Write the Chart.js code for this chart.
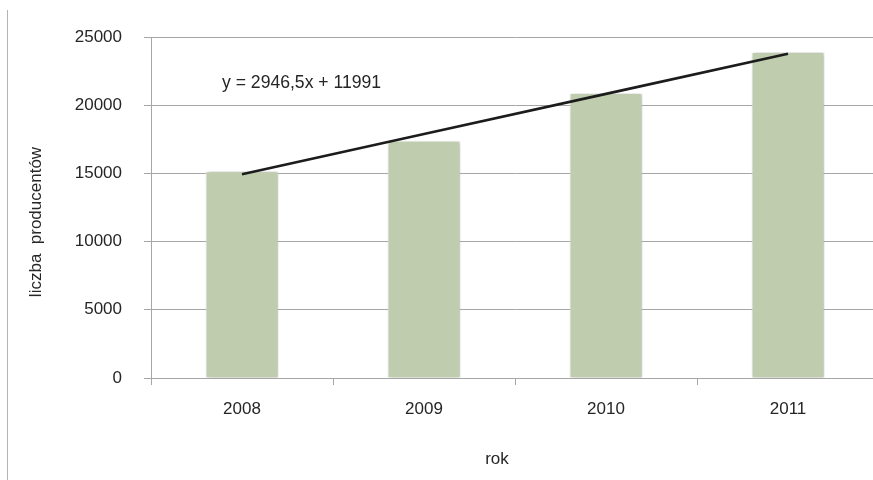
<!DOCTYPE html>
<html>
<head>
<meta charset="utf-8">
<script src="https://cdn.jsdelivr.net/npm/chart.js@4.4.1/dist/chart.umd.min.js"></script>
<style>
  html, body { margin: 0; padding: 0; background: #fff; overflow: hidden; }
  #wrap { width: 880px; height: 480px; position: relative; }
</style>
</head>
<body>
<div id="wrap"><canvas id="producersChart" width="880" height="480"></canvas></div>
<script>
// data
var years = ['2008', '2009', '2010', '2011'];
var producers = [15150, 17400, 20900, 23900];
var trendValues = [14938, 17884, 20831, 23777];   // linear trend shown on the chart
var trendLabel = 'y = 2946,5x + 11991';
var yTicks = [0, 5000, 10000, 15000, 20000, 25000];
var xTitle = 'rok';
var yTitle = 'liczba  producentów';

var FONT = '"Liberation Sans", Arial, sans-serif';
var TEXT = '#262626';
var GRID = '#a6a6a6';

// -----  extra drawing: left border line, axis titles, trend equation  ----- //
var decorations = {
  id: 'decorations',
  beforeDraw: function(chart) {
    var c = chart.ctx;
    c.save();
    c.strokeStyle = '#b4b4b4';
    c.lineWidth = 1;
    c.beginPath();
    c.moveTo(7.5, 10);
    c.lineTo(7.5, 480);
    c.stroke();
    c.restore();
  },
  afterDraw: function(chart) {
    var c = chart.ctx;
    c.save();
    c.fillStyle = TEXT;
    c.font = '17.6px ' + FONT;
    c.textBaseline = 'alphabetic';
    c.textAlign = 'left';
    c.fillText(trendLabel, 222, 88);

    c.font = '17px ' + FONT;
    c.textAlign = 'center';
    c.textBaseline = 'middle';
    c.fillText(xTitle, 497, 459);

    c.translate(36, 222);
    c.rotate(-Math.PI / 2);
    c.fillText(yTitle, 0, 0);
    c.restore();
  }
};

// soft shadow under the bars
var barShadow = {
  id: 'barShadow',
  beforeDatasetDraw: function(chart, args) {
    if (args.meta.type !== 'bar') return;
    var c = chart.ctx;
    c.save();
    c.shadowColor = 'rgba(0,0,0,0.35)';
    c.shadowBlur = 5;
    c.shadowOffsetX = 1;
    c.shadowOffsetY = 1;
  },
  afterDatasetDraw: function(chart, args) {
    if (args.meta.type !== 'bar') return;
    chart.ctx.restore();
  }
};

var ctx = document.getElementById('producersChart').getContext('2d');
var myChart = new Chart(ctx, {
  data: {
    labels: years,
    datasets: [
      {
        type: 'line',
        label: 'trend',
        data: trendValues,
        borderColor: '#1c1c1c',
        borderWidth: 2.6,
        pointRadius: 0,
        tension: 0,
        order: 0
      },
      {
        type: 'bar',
        label: 'liczba producentów',
        data: producers,
        backgroundColor: '#bfcdae',
        borderColor: '#ffffff',
        borderWidth: 1,
        barPercentage: 0.4,
        categoryPercentage: 1,
        order: 1
      }
    ]
  },
  options: {
    responsive: false,
    animation: false,
    devicePixelRatio: 1,
    layout: { padding: { top: 37, right: 1, left: 0, bottom: 0 } },
    plugins: {
      legend: { display: false },
      tooltip: { enabled: false }
    },
    scales: {
      x: {
        offset: true,
        grid: { display: true, drawOnChartArea: false, drawTicks: true, tickLength: 7, color: GRID, offset: true },
        border: { display: true, color: GRID, width: 1 },
        ticks: { color: TEXT, font: { family: FONT, size: 17 }, padding: 14, maxRotation: 0 },
        afterFit: function(scale) { scale.height = 102; }
      },
      y: {
        min: 0,
        max: 25000,
        afterBuildTicks: function(scale) {
          scale.ticks = yTicks.map(function(v) { return { value: v }; });
        },
        grid: { color: GRID, tickLength: 7, lineWidth: 1 },
        border: { display: true, color: GRID, width: 1 },
        ticks: {
          color: TEXT,
          font: { family: FONT, size: 17 },
          padding: 22,
          callback: function(value) { return String(value); }
        },
        afterFit: function(scale) { scale.width = 151; }
      }
    }
  },
  plugins: [decorations, barShadow]
});
</script>
</body>
</html>
